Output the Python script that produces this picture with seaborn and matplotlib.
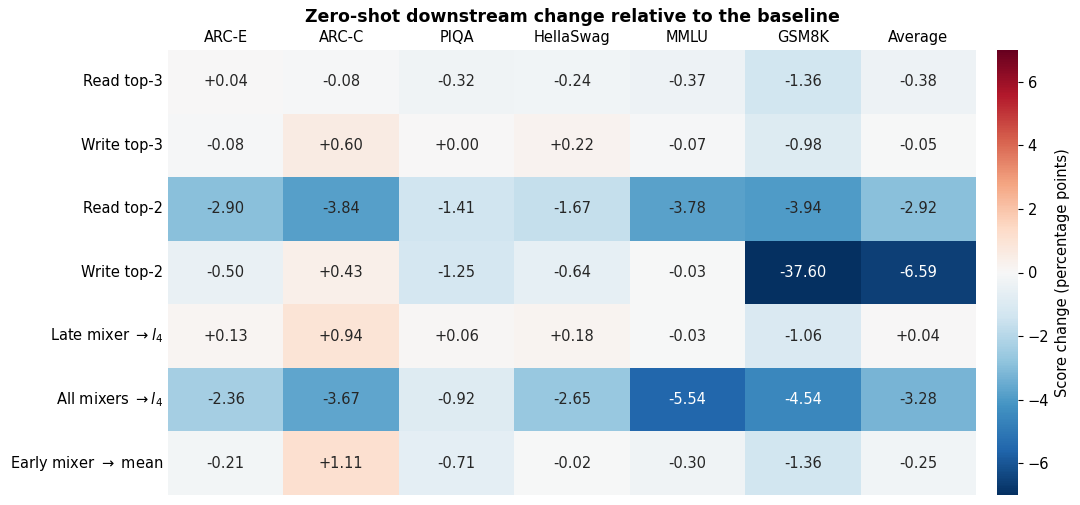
import numpy as np
import pandas as pd
import seaborn as sns
import matplotlib
matplotlib.use("Agg")
import matplotlib.pyplot as plt

benchmarks = ["ARC-E", "ARC-C", "PIQA", "HellaSwag", "MMLU", "GSM8K", "Average"]
variants = ["Read top-3", "Write top-3", "Read top-2", "Write top-2",
            r"Late mixer $\rightarrow l_4$", r"All mixers $\rightarrow l_4$",
            r"Early mixer $\rightarrow$ mean"]

read_top3 = [0.04, -0.08, -0.32, -0.24, -0.37, -1.36, -0.38]
write_top3 = [-0.08, 0.60, 0.00, 0.22, -0.07, -0.98, -0.05]
read_top2 = [-2.90, -3.84, -1.41, -1.67, -3.78, -3.94, -2.92]
write_top2 = [-0.50, 0.43, -1.25, -0.64, -0.03, -37.60, -6.59]
late_mixer = [0.13, 0.94, 0.06, 0.18, -0.03, -1.06, 0.04]
all_mixers = [-2.36, -3.67, -0.92, -2.65, -5.54, -4.54, -3.28]
early_mixer = [-0.21, 1.11, -0.71, -0.02, -0.30, -1.36, -0.25]

df = pd.DataFrame([read_top3, write_top3, read_top2, write_top2,
                   late_mixer, all_mixers, early_mixer],
                  index=variants, columns=benchmarks)

fig = plt.figure(figsize=(10.8, 5.05), dpi=100)
ax = fig.add_axes([168 / 1080, 10 / 505, 808 / 1080, 445 / 505])
cax = fig.add_axes([997 / 1080, 10 / 505, 21 / 1080, 445 / 505])

sns.heatmap(df, ax=ax, cbar_ax=cax, cmap="RdBu_r", vmin=-7, vmax=7, center=0,
            annot=True, fmt="+.2f", annot_kws={"fontsize": 10.5},
            linewidths=0,
            cbar_kws={"label": "Score change (percentage points)"})

# white text only on the darkest cells
for txt, v in zip(ax.texts, df.values.ravel()):
    txt.set_color("white" if abs(v) > 4 else "#262626")

ax.xaxis.tick_top()
ax.tick_params(length=0, labelsize=10.5)
ax.set_xlabel("")
ax.set_ylabel("")
plt.setp(ax.get_xticklabels(), rotation=0)
plt.setp(ax.get_yticklabels(), rotation=0)
ax.set_title("Zero-shot downstream change relative to the baseline",
             fontsize=12.5, fontweight="bold", pad=20)
cax.tick_params(labelsize=10.5)
cax.yaxis.label.set_size(10.5)

fig.savefig("out.png", dpi=100)
